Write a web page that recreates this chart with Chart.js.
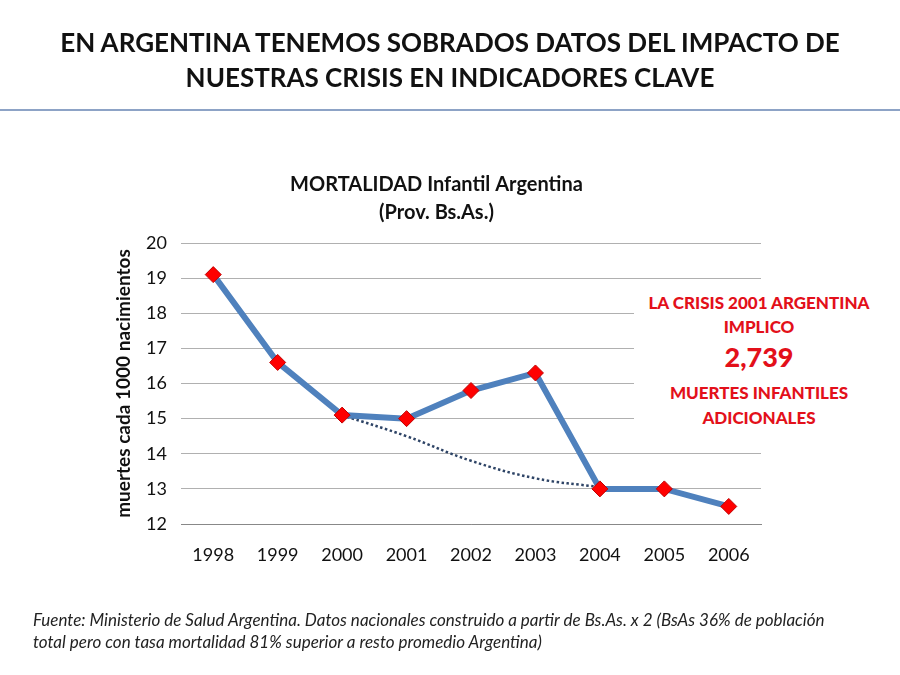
<!DOCTYPE html>
<html><head><meta charset="utf-8">
<script src="https://cdn.jsdelivr.net/npm/chart.js@4"></script>
<style>
html,body{margin:0;padding:0;background:#fff;}
#wrap{position:relative;width:900px;height:675px;overflow:hidden;font-family:Lato,"Open Sans",sans-serif;}
#main{position:absolute;left:0;top:0;width:900px;height:675px;}
.t{position:absolute;left:0;width:900px;text-align:center;font-weight:bold;font-size:26px;color:#111;}
#rule{position:absolute;left:0;top:109px;width:900px;height:2px;background:#8DA3C6;}
#note{position:absolute;left:33px;top:609px;width:860px;font-style:italic;font-size:17px;line-height:22px;color:#222;white-space:nowrap;}
#red{position:absolute;left:634px;top:288px;width:250px;height:148px;background:#fff;color:#E3101A;font-weight:900;text-align:center;}
#red div{position:absolute;left:0;width:250px;}
</style></head>
<body><div id="wrap">
<canvas id="main" width="900" height="675"></canvas>
<div class="t" style="top:26px">EN ARGENTINA TENEMOS SOBRADOS DATOS DEL IMPACTO DE</div>
<div class="t" style="top:61px">NUESTRAS CRISIS EN INDICADORES CLAVE</div>
<div id="rule"></div>
<div id="red">
 <div style="top:4px;font-size:17px">LA CRISIS 2001 ARGENTINA</div>
 <div style="top:28px;font-size:17px">IMPLICO</div>
 <div style="top:52px;font-size:27px">2,739</div>
 <div style="top:94px;font-size:17px">MUERTES INFANTILES</div>
 <div style="top:119px;font-size:17px">ADICIONALES</div>
</div>
<div id="note">Fuente: Ministerio de Salud Argentina. Datos nacionales construido a partir de Bs.As. x 2 (BsAs 36% de población<br>total pero con tasa mortalidad 81% superior a resto promedio Argentina)</div>
</div>
<script>
const years = ["1998","1999","2000","2001","2002","2003","2004","2005","2006"];
const mortalidad = [19.1,16.6,15.1,15.0,15.8,16.3,13.0,13.0,12.5];
const tendencia = [null,null,15.1,14.5,13.8,13.3,13.05,null,null];
const yTicks = [12,13,14,15,16,17,18,19,20];

new Chart(document.getElementById('main'), {
  type:'line',
  data:{labels:years,datasets:[
    {label:'Mortalidad',data:mortalidad,borderColor:'#4F81BD',borderWidth:6,tension:0,
     pointStyle:'rectRot',pointRadius:8,pointBackgroundColor:'#FF0000',pointBorderColor:'#C00000',pointBorderWidth:1,order:1},
    {label:'Tendencia',data:tendencia,borderColor:'#2E4466',borderWidth:2.5,borderDash:[2.5,2.5],tension:0.4,
     pointRadius:0,order:2}
  ]},
  options:{
    responsive:false,animation:false,devicePixelRatio:1,
    layout:{padding:{left:112,right:139,top:171,bottom:111}},
    plugins:{legend:{display:false},tooltip:{enabled:false},
      title:{display:true,text:['MORTALIDAD Infantil Argentina','(Prov. Bs.As.)'],color:'#111',
        font:{family:'Lato',size:20,weight:'bold',lineHeight:1.4},padding:{top:0,bottom:16}}},
    scales:{
      x:{offset:true,grid:{display:false},border:{display:true,color:'#888'},
        ticks:{color:'#111',font:{family:'Lato',size:18},padding:12},
        afterFit:s=>{s.height=40;}},
      y:{min:12,max:20,afterBuildTicks:s=>{s.ticks=yTicks.map(v=>({value:v}));},
        grid:{color:'#B0B0B0',drawTicks:false},border:{display:false},
        ticks:{color:'#111',font:{family:'Lato',size:18},padding:14},
        title:{display:true,text:'muertes cada 1000 nacimientos',color:'#111',font:{family:'Lato',size:19,weight:'bold'},padding:0},
        afterFit:s=>{s.width=69;}}
    }
  }
});
</script>
</body></html>
